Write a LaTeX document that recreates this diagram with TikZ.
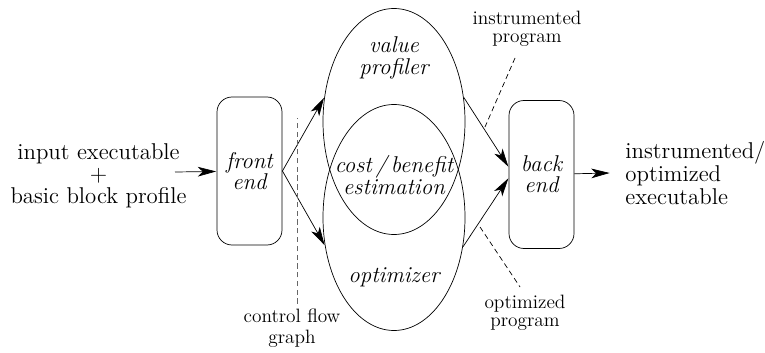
\documentclass[tikz,border=0pt]{standalone}
\usetikzlibrary{positioning,shapes.geometric,arrows.meta}

\begin{document}
\begin{tikzpicture}
        \tikzstyle{stage} = [draw,rounded corners=0.3cm,minimum width=1.3cm,minimum height=2.96cm,inner sep=0pt,align=center,font=\fontsize{13}{12}\selectfont\itshape]
        \tikzstyle{region} = [draw,ellipse,minimum width=2.84cm,minimum height=4.52cm,inner sep=0pt]
        \tikzstyle{zone} = [inner sep=0pt,align=center,font=\fontsize{13}{12.5}\selectfont\itshape]
        \tikzstyle{note} = [inner sep=0pt,align=center,font=\fontsize{11}{10.5}\selectfont]
        \tikzstyle{io} = [inner sep=0pt,font=\fontsize{13}{12.5}\selectfont]
        \tikzstyle{flow} = [-{Stealth[length=3.8mm,width=2mm,inset=1mm]}]
        \tikzstyle{pointer} = [dash pattern=on 3pt off 2pt]
    \useasboundingbox (0,0) rectangle (15.3,7.04);
    \tikzset{line width=0.5pt}

    \node[region] (vprof) at (7.88,4.61) {};
    \node[region] (opt) at (7.88,2.69) {};
    \node[zone] (vproftxt) at (7.88,5.88) {value\\profiler};
    \node[zone] (cost) at (7.88,3.54) {cost\,/\,benefit\\estimation};
    \node[zone] (opttxt) at (7.88,1.5) {optimizer};

    \node[stage] (fend) at (4.99,3.62) {front\\end};
    \node[stage] (bend) at (10.83,3.55) {back\\end};

    \node[io,align=center] (input) at (1.97,3.52) {input executable\\+\\basic block profile};
    \node[io,align=left,font=\fontsize{13}{13}\selectfont,anchor=west] (output) at (12.5,3.58) {instrumented/\\optimized\\executable};
    \coordinate (inp) at (3.5,3.6);
    \coordinate (outp) at (12.2,3.58);

    \node[note,font=\fontsize{11}{12}\selectfont] (cfg) at (5.84,0.47) {control flow\\graph};
    \node[note] (ip) at (10.54,6.46) {instrumented\\program};
    \node[note] (op) at (10.5,0.78) {optimized\\program};

    \draw [flow] (inp) -- (fend);
    \draw [flow] (fend.east) -- (vprof.161);
    \draw [flow] (fend.east) -- (opt.202);
    \draw [flow] (vprof.19) -- ([yshift=0.15cm]bend.west);
    \draw [flow] (opt.-23) -- ([yshift=-0.07cm]bend.west);
    \draw [flow] (bend) -- (outp);

    \coordinate (cfgtop) at (5.94,4.68);
    \coordinate (ipA) at (10.3,5.88);
    \coordinate (ipB) at (9.7,4.5);
    \coordinate (opA) at (9.6,2.5);
    \coordinate (opB) at (10.4,1.3);
    \draw [pointer,gray!80!black] ([yshift=0.1cm]cfg.north -| cfgtop) -- (cfgtop);
    \draw [pointer,line width=0.4pt] (ipA) -- (ipB);
    \draw [pointer,line width=0.4pt] (opA) -- (opB);

    \end{tikzpicture}
\end{document}
